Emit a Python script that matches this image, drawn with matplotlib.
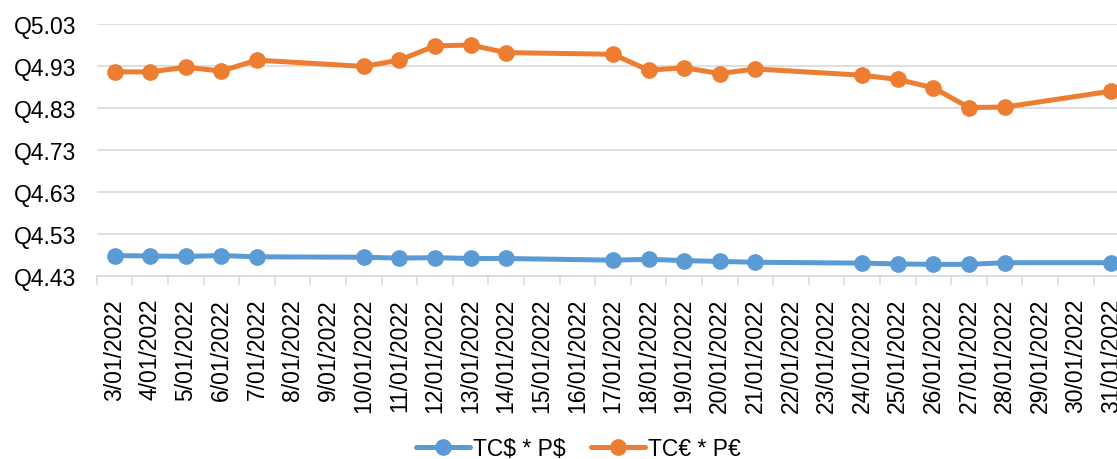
import matplotlib
matplotlib.use("Agg")
import matplotlib.pyplot as plt
import matplotlib.dates as mdates
import pandas as pd
from matplotlib.ticker import FixedLocator, FuncFormatter

# ---- data ----
dates = ["2022-01-03", "2022-01-04", "2022-01-05", "2022-01-06", "2022-01-07",
         "2022-01-10", "2022-01-11", "2022-01-12", "2022-01-13", "2022-01-14",
         "2022-01-17", "2022-01-18", "2022-01-19", "2022-01-20", "2022-01-21",
         "2022-01-24", "2022-01-25", "2022-01-26", "2022-01-27", "2022-01-28",
         "2022-01-31"]
usd = [4.478, 4.477, 4.476, 4.478, 4.475,
       4.474, 4.472, 4.473, 4.471, 4.471,
       4.467, 4.469, 4.466, 4.464, 4.462,
       4.460, 4.458, 4.457, 4.457, 4.461,
       4.461]
eur = [4.916, 4.916, 4.927, 4.918, 4.944,
       4.929, 4.944, 4.978, 4.980, 4.962,
       4.958, 4.920, 4.926, 4.912, 4.923,
       4.908, 4.898, 4.878, 4.831, 4.832,
       4.870]
series_names = ["TC\\$ * P\\$", "TC€ * P€"]
axis_start = "2022-01-03"
axis_end = "2022-01-31"
y_ticks = [4.43, 4.53, 4.63, 4.73, 4.83, 4.93, 5.03]

# ---- styling ----
plt.rcParams['font.family'] = ['Liberation Sans', 'DejaVu Sans']
BLUE = "#5B9BD5"
ORANGE = "#ED7D31"
GRID = "#D9D9D9"
FS = 16.5

x = mdates.date2num(pd.to_datetime(dates))
all_days = pd.date_range(axis_start, axis_end, freq="D")
day_nums = mdates.date2num(all_days)

fig = plt.figure(figsize=(11.17, 4.60), dpi=100)
ax = fig.add_axes([0.0866, 0.3985, 0.9243, 0.547])

ax.plot(x, usd, color=BLUE, lw=3.6, marker="o", ms=11, mec=BLUE, mfc=BLUE,
        label=series_names[0], solid_capstyle="round", zorder=3)
ax.plot(x, eur, color=ORANGE, lw=3.6, marker="o", ms=11, mec=ORANGE, mfc=ORANGE,
        label=series_names[1], solid_capstyle="round", zorder=3)

ax.set_xlim(day_nums[0] - 0.5, day_nums[-1] + 0.5)
ax.set_ylim(y_ticks[0], y_ticks[-1])

ax.xaxis.set_minor_locator(FixedLocator(list(day_nums - 0.5) + [day_nums[-1] + 0.5]))
labels = [f"{d.day}/{d.month:02d}/{d.year}" for d in all_days]
ax.set_xticks(day_nums)
ax.set_xticklabels(labels, rotation=90, fontsize=FS, va="top", ha="center")
ax.tick_params(axis="x", which="major", length=0, pad=16)
ax.tick_params(axis="x", which="minor", length=6.5, width=1.1, color=GRID)

ax.set_yticks(y_ticks)
ax.yaxis.set_major_formatter(FuncFormatter(lambda v, p: f"Q{v:.2f}"))
ax.tick_params(axis="y", length=0, pad=15, labelsize=FS)

ax.grid(axis="y", color=GRID, lw=1.2, zorder=0)
ax.set_axisbelow(True)
for s in ["top", "right", "left"]:
    ax.spines[s].set_visible(False)
ax.spines["bottom"].set_color(GRID)
ax.spines["bottom"].set_linewidth(1.2)

fig.legend(loc="center", bbox_to_anchor=(0.518, 0.022), ncol=2, frameon=False,
           fontsize=FS, handlelength=2.35, handletextpad=0.15, columnspacing=1.1,
           borderaxespad=0)

fig.savefig("out.png", dpi=100)
